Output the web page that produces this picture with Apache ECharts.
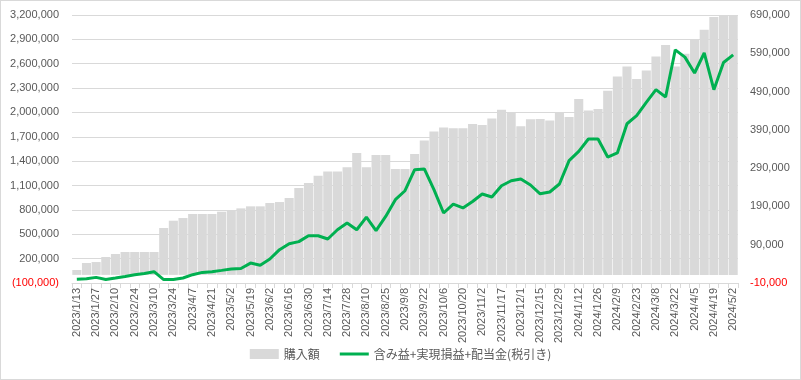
<!DOCTYPE html>
<html>
<head>
<meta charset="utf-8">
<script src="https://cdn.jsdelivr.net/npm/echarts@6/dist/echarts.min.js"></script>
<style>
html,body{margin:0;padding:0;background:#fff;}
#c{width:801px;height:380px;box-sizing:border-box;border:1px solid #d9d9d9;}
</style>
</head>
<body>
<div id="c"></div>
<script>
const categories = [
"2023/1/13","2023/1/20","2023/1/27","2023/2/3","2023/2/10","2023/2/17","2023/2/24","2023/3/3","2023/3/10","2023/3/17",
"2023/3/24","2023/3/31","2023/4/7","2023/4/14","2023/4/21","2023/4/28","2023/5/2","2023/5/12","2023/5/19","2023/5/26",
"2023/6/2","2023/6/9","2023/6/16","2023/6/23","2023/6/30","2023/7/7","2023/7/14","2023/7/21","2023/7/28","2023/8/4",
"2023/8/10","2023/8/18","2023/8/25","2023/9/1","2023/9/8","2023/9/15","2023/9/22","2023/9/29","2023/10/6","2023/10/13",
"2023/10/20","2023/10/27","2023/11/2","2023/11/10","2023/11/17","2023/11/24","2023/12/1","2023/12/8","2023/12/15","2023/12/22",
"2023/12/29","2024/1/5","2024/1/12","2024/1/19","2024/1/26","2024/2/2","2024/2/9","2024/2/16","2024/2/23","2024/3/1",
"2024/3/8","2024/3/15","2024/3/22","2024/3/29","2024/4/5","2024/4/12","2024/4/19","2024/4/26","2024/5/2"
];
const purchaseAmount = [
60000,146000,158000,220000,257000,282000,282000,282000,282000,577000,
667000,700000,750000,750000,750000,778000,795000,819000,844000,844000,
885000,897000,947000,1070000,1131000,1221000,1274000,1274000,1324000,1501000,
1324000,1476000,1476000,1304000,1304000,1489000,1656000,1767000,1816000,1804000,
1804000,1858000,1846000,1927000,2034000,2001000,1829000,1915000,1920000,1902000,
2001000,1944000,2166000,2025000,2043000,2268000,2444000,2567000,2412000,2518000,
2690000,2830000,2567000,2723000,2904000,3019000,3175000,3200000,3200000
];
const totalProfit = [
0,1000,4700,-1000,3000,7200,11700,15000,19500,-1000,
-1000,3000,11700,17700,19500,23000,26600,28000,42000,36600,
52700,77000,92600,98000,113500,113500,105000,129000,146700,129000,
162000,127000,164000,207600,231000,286000,288000,233700,172800,196000,
186000,203000,222500,214600,244000,257000,261600,246000,223000,227700,
248600,309500,333700,366000,366000,319000,329600,406000,427000,461700,
495000,476000,599000,580000,538500,590800,495000,566000,586000
];
const leftTicks = {min:-100000, max:3200000, interval:300000};
const rightTicks = {min:-10000, max:690000, interval:100000};
const seriesNames = ["購入額","含み益+実現損益+配当金(税引き)"];

const fmt = v => Math.abs(v).toLocaleString('en-US');
const chart = echarts.init(document.getElementById('c'), null, {renderer:'canvas'});
const labelFont = "'Liberation Sans', 'Noto Sans CJK JP', sans-serif";
chart.setOption({
  animation:false,
  textStyle:{fontFamily:labelFont},
  grid:{left:71, right:62, top:14, bottom:96, containLabel:false},
  legend:{
    bottom:14, left:'center',
    itemWidth:29, itemHeight:10, itemGap:20,
    textStyle:{fontSize:12, color:'#595959', fontFamily:"'Noto Sans CJK JP', sans-serif"},
    data:[
      {name:seriesNames[0], icon:'rect'},
      {name:seriesNames[1], icon:'path://M0,0 L29,0 L29,3 L0,3 Z'}
    ]
  },
  xAxis:{
    type:'category', data:categories,
    axisLine:{onZero:false, lineStyle:{color:'#d9d9d9'}},
    axisTick:{show:true, interval:0, length:5, lineStyle:{color:'#d9d9d9'}},
    axisLabel:{interval:1, rotate:90, fontSize:11, color:'#595959', margin:5}
  },
  yAxis:[
    {type:'value', min:leftTicks.min, max:leftTicks.max, interval:leftTicks.interval,
     splitLine:{lineStyle:{color:'#d9d9d9'}},
     axisLine:{show:false}, axisTick:{show:false},
     axisLabel:{fontSize:11, color:'#595959', margin:13,
       formatter: v => v < 0 ? '{neg|(' + fmt(v) + ')}' : fmt(v),
       rich:{neg:{color:'#ff0000', fontSize:11}}}
    },
    {type:'value', min:rightTicks.min, max:rightTicks.max, interval:rightTicks.interval,
     splitLine:{show:false},
     axisLine:{show:false}, axisTick:{show:false},
     axisLabel:{fontSize:11, color:'#595959', margin:12,
       formatter: v => v < 0 ? '{neg|-' + fmt(v) + '}' : fmt(v),
       rich:{neg:{color:'#ff0000', fontSize:11}}}
    }
  ],
  series:[
    {name:seriesNames[0], type:'bar', yAxisIndex:0, data:purchaseAmount,
     barCategoryGap:'6%', itemStyle:{color:'#d9d9d9'}},
    {name:seriesNames[1], type:'line', yAxisIndex:1, data:totalProfit,
     symbol:'none', lineStyle:{color:'#00b050', width:3}, itemStyle:{color:'#00b050'}}
  ]
});
</script>
</body>
</html>
